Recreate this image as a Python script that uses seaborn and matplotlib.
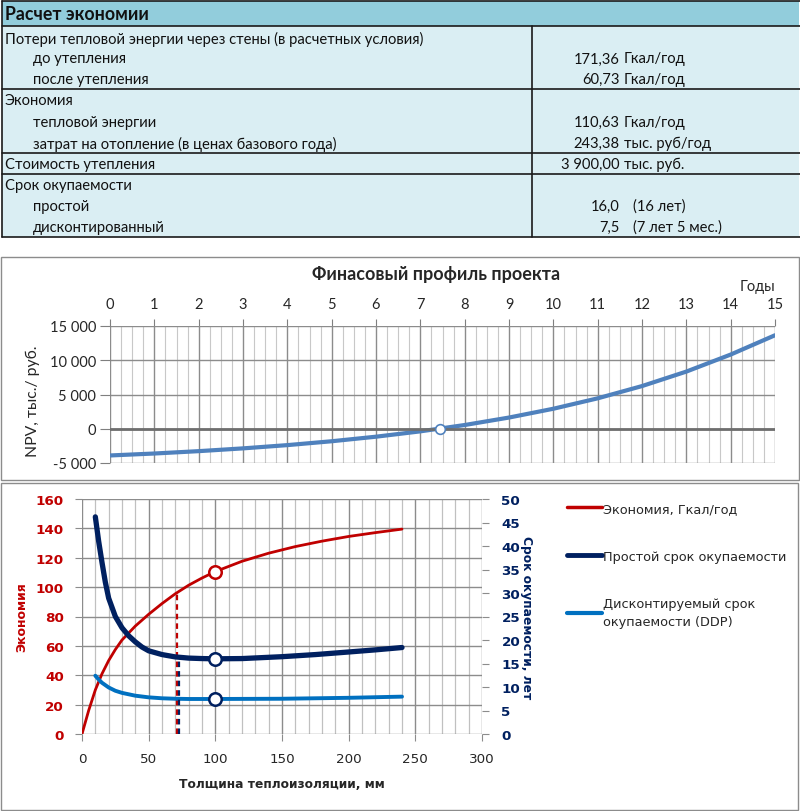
import matplotlib
matplotlib.use('Agg')
import matplotlib.pyplot as plt
from matplotlib.lines import Line2D
from matplotlib.patches import Rectangle
import numpy as np
import seaborn as sns

W, H = 800, 812

# --- table ---
TABLE_TITLE = 'Расчет экономии'
row_labels = [
    'Потери тепловой энергии через стены (в расчетных условия)',
    'до утепления', 'после утепления',
    'Экономия', 'тепловой энергии', 'затрат на отопление (в ценах базового года)',
    'Стоимость утепления',
    'Срок окупаемости', 'простой', 'дисконтированный',
]
row_indent = [0, 1, 1, 0, 1, 1, 0, 0, 1, 1]
row_values = ['', '171,36', '60,73', '', '110,63', '243,38', '3 900,00', '', '16,0', '7,5']
row_units = ['', 'Гкал/год', 'Гкал/год', '', 'Гкал/год', 'тыс. руб/год', 'тыс. руб.', '',
             '(16 лет)', '(7 лет 5 мес.)']

# --- NPV profile ---
npv_years = list(range(16))
npv_values = [-3900, -3615, -3270, -2865, -2390, -1825, -1160, -380, 545, 1635,
              2920, 4440, 6230, 8345, 10830, 13650]
npv_payback = 7.45
npv_yticks = [-5000, 0, 5000, 10000, 15000]
npv_ytick_labels = ['-5 000', '0', '5 000', '10 000', '15 000']

# --- economy / payback vs insulation thickness ---
econ_thickness = [0, 5, 10, 15, 20, 25, 30, 40, 50, 60, 70, 80, 90, 100,
                  120, 140, 160, 180, 200, 220, 240]
econ_values = [0, 16, 30, 41, 50, 57.5, 64, 73.5, 81.5, 88.8, 95.5, 101.3, 106.2, 110.6,
               117.6, 123.1, 127.6, 131.3, 134.5, 137.1, 139.5]
pay_thickness = [10, 12.5, 15, 17.5, 20, 25, 30, 35, 40, 45, 50, 60, 70, 80, 90, 100,
                 120, 150, 175, 200, 220, 240]
simple_payback = [46.2, 41, 36.5, 32.3, 28.9, 25.0, 22.6, 20.9, 19.6, 18.5, 17.7, 16.9,
                  16.4, 16.15, 16.05, 16.0, 16.05, 16.45, 16.9, 17.45, 17.9, 18.4]
ddp_thickness = [10, 12.5, 15, 20, 25, 30, 40, 50, 60, 70, 80, 100, 150, 200, 240]
ddp_payback = [12.4, 11.6, 10.9, 9.9, 9.2, 8.75, 8.15, 7.8, 7.6, 7.5, 7.45, 7.45,
               7.5, 7.7, 7.95]
chosen_thickness = 100
chosen_economy = 110.63
chosen_simple = 16.0
chosen_ddp = 7.45
optimum_thickness = 72
optimum_economy = 96.6
optimum_simple = 16.35

RED = '#C00000'
NAVY = '#002060'
LIGHT = '#0070C0'
NPV_BLUE = '#4F81BD'

sns.set_style('white')
plt.rcParams['font.family'] = ['Lato', 'DejaVu Sans']


def rect(x0, y0, x1, y1):
    return [x0 / W, 1 - y1 / H, (x1 - x0) / W, (y1 - y0) / H]


fig = plt.figure(figsize=(W / 100, H / 100), dpi=100)

# background layer in pixel coordinates: table and frames
bg = fig.add_axes([0, 0, 1, 1], zorder=-1)
bg.set_xlim(0, W)
bg.set_ylim(H, 0)
bg.axis('off')

bg.add_patch(Rectangle((2, 2), 797, 25, facecolor='#92CDDC', edgecolor='none'))
bg.add_patch(Rectangle((2, 27), 797, 210.5, facecolor='#DAEEF3', edgecolor='none'))
for yy in [2, 27, 89.5, 153.5, 174.5, 237.5]:
    bg.plot([2, 800], [yy, yy], color='#1a1a1a', lw=1.2)
bg.plot([2, 2], [2, 237.5], color='#1a1a1a', lw=1.2)
bg.plot([532, 532], [27, 237.5], color='#1a1a1a', lw=1.2)
bg.text(5, 15, TABLE_TITLE, fontsize=12.8, fontweight='bold', va='center', color='#111111')

row_y = [39, 59.5, 80, 101, 122.5, 144, 165, 186, 207, 228]
for lab, ind, val, unit, yy in zip(row_labels, row_indent, row_values, row_units, row_y):
    bg.text(5 + 28 * ind, yy, lab, fontsize=10.6, va='center', color='#111111')
    if val:
        bg.text(620, yy, val, fontsize=10.6, va='center', ha='right', color='#111111')
        ux = 633 if unit.startswith('(') else 624
        bg.text(ux, yy, unit, fontsize=10.6, va='center', color='#111111')

bg.add_patch(Rectangle((1, 258), 798, 223, facecolor='none', edgecolor='#8c8c8c', lw=1))
bg.add_patch(Rectangle((1, 484), 796.5, 327, facecolor='none', edgecolor='#8c8c8c', lw=1))

# --- NPV chart ---
ax1 = fig.add_axes(rect(110, 327, 775, 464))
ax1.set_facecolor('none')
sns.lineplot(x=npv_years, y=npv_values, ax=ax1, color=NPV_BLUE, linewidth=3, errorbar=None)
ax1.plot([npv_payback], [0], marker='o', ms=7, mfc='white', mec=NPV_BLUE, mew=1.2, zorder=5)
ax1.axhline(0, color='#6e6e6e', lw=2, zorder=2)
ax1.set_xlim(0, 15)
ax1.set_ylim(-5000, 15000)
ax1.xaxis.tick_top()
ax1.set_xticks(range(16))
ax1.set_xticks(np.arange(0, 15.01, 0.25), minor=True)
ax1.set_yticks(npv_yticks)
ax1.set_yticklabels(npv_ytick_labels)
ax1.tick_params(axis='x', which='major', top=True, length=5, color='#7f7f7f', pad=6,
                labelsize=10.5)
ax1.tick_params(axis='x', which='minor', length=0)
ax1.tick_params(axis='y', left=True, length=7, color='#7f7f7f', pad=3, labelsize=10.5)
ax1.grid(which='major', axis='x', color='#8c8c8c', lw=1)
ax1.grid(which='minor', axis='x', color='#c8c8c8', lw=0.8)
ax1.grid(which='major', axis='y', color='#8c8c8c', lw=1)
for s in ax1.spines.values():
    s.set_visible(False)
ax1.set_ylabel('NPV, тыс./ руб.', fontsize=11.3)
ax1.yaxis.set_label_coords(-0.105, 0.46)
ax1.text(0.49, 1.38, 'Финасовый профиль проекта', transform=ax1.transAxes,
         ha='center', va='center', fontsize=13, fontweight='bold')
ax1.text(0.973, 1.29, 'Годы', transform=ax1.transAxes, ha='center', va='center', fontsize=10.5)

# --- thickness chart ---
dv = ['DejaVu Sans']
ax2 = fig.add_axes(rect(82, 500, 482, 735))
ax2.set_facecolor('none')
sns.lineplot(x=econ_thickness, y=econ_values, ax=ax2, color=RED, linewidth=2, errorbar=None)
ax2.plot([optimum_thickness - 0.8] * 2, [0, optimum_economy], color=RED, lw=1.6,
         dashes=(2.5, 1.8))
ax2.plot([chosen_thickness], [chosen_economy], marker='o', ms=9, mfc='white', mec=RED,
         mew=1.8, zorder=5)
ax2.set_xlim(0, 300)
ax2.set_ylim(0, 160)
ax2.set_xticks(range(0, 301, 50))
ax2.set_xticks(range(0, 301, 10), minor=True)
ax2.set_yticks(range(0, 161, 20))
ax2.grid(which='major', axis='x', color='#8c8c8c', lw=1)
ax2.grid(which='minor', axis='x', color='#c0c0c0', lw=0.9)
ax2.grid(which='major', axis='y', color='#8c8c8c', lw=1)
ax2.tick_params(axis='x', which='major', bottom=True, length=5, color='#8c8c8c', pad=8)
ax2.tick_params(axis='x', which='minor', length=0)
ax2.tick_params(axis='y', left=True, length=5, color='#8c8c8c', pad=8, labelcolor=RED)
for lab in ax2.get_xticklabels() + ax2.get_yticklabels():
    lab.set_family(dv)
    lab.set_fontsize(9.7)
for lab in ax2.get_yticklabels():
    lab.set_fontweight('bold')
for s in ax2.spines.values():
    s.set_visible(False)
ax2.set_xlabel('Толщина теплоизоляции, мм', family=dv, fontsize=8.8, fontweight='bold')
ax2.xaxis.set_label_coords(0.5, -0.185)
ax2.set_ylabel('Экономия', family=dv, fontsize=9, fontweight='bold', color=RED)
ax2.yaxis.set_label_coords(-0.135, 0.5)

ax3 = ax2.twinx()
ax3.set_facecolor('none')
sns.lineplot(x=pay_thickness, y=simple_payback, ax=ax3, color=NAVY, linewidth=3.8,
             errorbar=None)
sns.lineplot(x=ddp_thickness, y=ddp_payback, ax=ax3, color=LIGHT, linewidth=2.8,
             errorbar=None)
ax3.plot([optimum_thickness + 0.8] * 2, [0, optimum_simple], color=NAVY, lw=1.6,
         dashes=(2.5, 1.8))
ax3.plot([chosen_thickness] * 2, [chosen_simple, chosen_ddp], ls='none', marker='o', ms=9,
         mfc='white', mec=NAVY, mew=1.8, zorder=5)
ax3.set_ylim(0, 50)
ax3.set_yticks(range(0, 51, 5))
ax3.grid(False)
ax3.tick_params(axis='y', right=True, length=5, color='#8c8c8c', pad=9, labelcolor=NAVY)
for lab in ax3.get_yticklabels():
    lab.set_family(dv)
    lab.set_fontsize(9.7)
    lab.set_fontweight('bold')
for s in ax3.spines.values():
    s.set_visible(False)
ax3.set_ylabel('Срок окупаемости, лет', family=dv, fontsize=8.8, fontweight='bold',
               color=NAVY, rotation=270, va='center')
ax3.yaxis.set_label_coords(1.1125, 0.5)

handles = [Line2D([], [], color=RED, lw=2.5), Line2D([], [], color=NAVY, lw=3.5),
           Line2D([], [], color=LIGHT, lw=3)]
labels = ['Экономия, Гкал/год', 'Простой срок окупаемости',
          'Дисконтируемый срок\nокупаемости (DDP)']
leg = fig.legend(handles, labels, loc='upper left', bbox_to_anchor=(555 / W, 1 - 491 / H),
                 frameon=False, handlelength=2.75, handletextpad=0.1, labelspacing=2.7,
                 prop={'family': dv, 'size': 9.3})
leg.get_texts()[2].set_linespacing(1.45)

fig.savefig('out.png', dpi=100)
